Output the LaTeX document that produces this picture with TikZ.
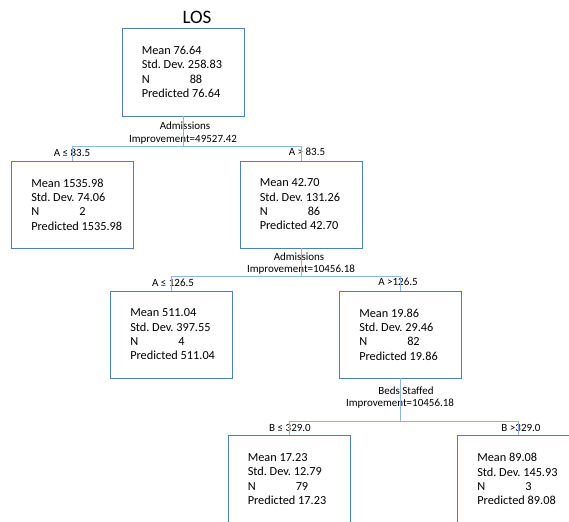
\documentclass[tikz,border=0pt]{standalone}
\usepackage{fontspec}
\setmainfont{Carlito}
\frenchspacing
\definecolor{boxc}{HTML}{4F7FBA}
\definecolor{connc}{HTML}{8DB4E2}
\tikzset{
  x=1pt, y=-1pt,
  box/.style={draw=boxc, line width=0.9pt, minimum width=122pt, minimum height=88pt, inner sep=0pt},
  boxtext/.style={anchor=west, align=left, inner sep=0pt, font=\fontsize{12.3}{14.3}\selectfont},
  conn/.style={draw=connc, line width=1pt},
  lab/.style={inner sep=0pt, font=\fontsize{11}{13}\selectfont},
}
\newcommand{\stats}[4]{Mean #1\\Std. Dev. #2\\\makebox[48pt][l]{N}#3\\Predicted #4}
\begin{document}
\begin{tikzpicture}
\useasboundingbox (0,0) rectangle (569,521);
\clip (0,0) rectangle (569,521);
\fill[white] (0,0) rectangle (569,521);

\node[inner sep=0pt, font=\fontsize{19}{22}\selectfont] (title) at (197,17) {LOS};

\node[box] (root) at (183,72) {};
\node[boxtext] (roott) at ([xshift=20pt]root.west) {\stats{76.64}{258.83}{88}{76.64}};

\node[box, minimum height=87pt] (l1) at (72.5,204.5) {};
\node[boxtext] (l1t) at ([xshift=20pt]l1.west) {\stats{1535.98}{74.06}{2}{1535.98}};

\node[box, minimum height=87pt] (r1) at (301,204.5) {};
\node[boxtext] (r1t) at ([xshift=20pt]r1.west) {\stats{42.70}{131.26}{86}{42.70}};

\node[box, minimum height=87pt] (l2) at (171.5,334.5) {};
\node[boxtext] (l2t) at ([xshift=20pt]l2.west) {\stats{511.04}{397.55}{4}{511.04}};

\node[box, minimum height=87pt] (r2) at (400.5,334.5) {};
\node[boxtext] (r2t) at ([xshift=20pt]r2.west) {\stats{19.86}{29.46}{82}{19.86}};

\node[box] (l3) at (289,479) {};
\node[boxtext] (l3t) at ([xshift=20pt]l3.west) {\stats{17.23}{12.79}{79}{17.23}};

\node[box] (r3) at (518.5,479) {};
\node[boxtext] (r3t) at ([xshift=20pt]r3.west) {\stats{89.08}{145.93}{3}{89.08}};

% split labels
\node[lab] (s1a) at (185,126) {Admissions};
\node[lab] (s1b) at (183,140) {Improvement=49527.42};
\node[lab] (s2a) at (299,257) {Admissions};
\node[lab] (s2b) at (301,270) {Improvement=10456.18};
\node[lab] (s3a) at (406,391) {Beds Staffed};
\node[lab] (s3b) at (400,404) {Improvement=10456.18};

% branch labels
\node[lab] (e1) at (72,153) {A ≤ 83.5};
\node[lab] (e2) at (307,152) {A > 83.5};
\node[lab] (e3) at (173,283) {A ≤ 126.5};
\node[lab] (e4) at (398,282) {A >126.5};
\node[lab] (e5) at (290,428) {B ≤ 329.0};
\node[lab] (e6) at (521,428) {B >329.0};

% connectors
\draw[conn] (root.south) -- ++(0,30) coordinate (j1);
\draw[conn] (l1.north) |- (j1) -| (r1.north);
\draw[conn] (r1.south) -- ++(0,28) coordinate (j2);
\draw[conn] (l2.north) |- (j2) -| (r2.north);
\draw[conn] (r2.south) -- ++(0,43) coordinate (j3);
\draw[conn] (l3.north) |- (j3) -| (r3.north);
\end{tikzpicture}
\end{document}
